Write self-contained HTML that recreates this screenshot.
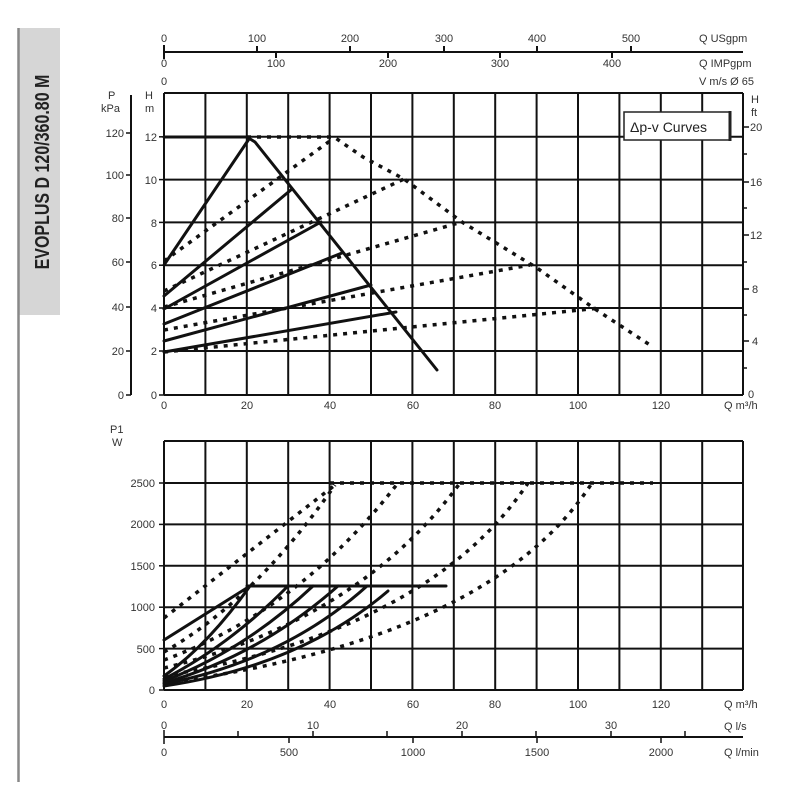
<!DOCTYPE html>
<html><head><meta charset="utf-8"><style>
html,body{margin:0;padding:0;background:#fff;width:800px;height:800px;overflow:hidden}
svg{display:block}
text{font-family:"Liberation Sans",sans-serif;fill:#333;font-size:11px}
</style></head><body>
<svg width="800" height="800" viewBox="0 0 800 800">
<rect x="0" y="0" width="800" height="800" fill="#fff"/>
<rect x="19" y="28" width="41" height="287" fill="#d6d6d6"/>
<line x1="18.5" y1="28" x2="18.5" y2="782" stroke="#888" stroke-width="2.5"/>
<text transform="translate(49,172) rotate(-90) scale(1,1.25)" text-anchor="middle" style="font-size:16px;font-weight:bold;fill:#222;font-family:'Liberation Sans Narrow','Liberation Sans',sans-serif">EVOPLUS D 120/360.80 M</text>

<g stroke="#111" stroke-width="2">
<line x1="164" y1="52" x2="743" y2="52"/>
<line x1="164" y1="45" x2="164" y2="59"/>
<line x1="257" y1="46" x2="257" y2="52"/><line x1="350" y1="46" x2="350" y2="52"/><line x1="444" y1="46" x2="444" y2="52"/><line x1="537" y1="46" x2="537" y2="52"/><line x1="631" y1="46" x2="631" y2="52"/>
<line x1="276" y1="52" x2="276" y2="58"/><line x1="388" y1="52" x2="388" y2="58"/><line x1="500" y1="52" x2="500" y2="58"/><line x1="612" y1="52" x2="612" y2="58"/>
</g>
<g text-anchor="middle">
<text x="164" y="42">0</text><text x="257" y="42">100</text><text x="350" y="42">200</text><text x="444" y="42">300</text><text x="537" y="42">400</text><text x="631" y="42">500</text>
<text x="164" y="67">0</text><text x="276" y="67">100</text><text x="388" y="67">200</text><text x="500" y="67">300</text><text x="612" y="67">400</text>
<text x="164" y="85">0</text>
</g>
<text x="699" y="42">Q USgpm</text>
<text x="699" y="67">Q IMPgpm</text>
<text x="699" y="85">V m/s Ø 65</text>

<g stroke="#111" stroke-width="2" fill="none">
<line x1="164" y1="93" x2="743" y2="93"/>
<line x1="164" y1="136.8" x2="743" y2="136.8"/>
<line x1="164" y1="179.6" x2="743" y2="179.6"/>
<line x1="164" y1="222.4" x2="743" y2="222.4"/>
<line x1="164" y1="265.2" x2="743" y2="265.2"/>
<line x1="164" y1="308" x2="743" y2="308"/>
<line x1="164" y1="351" x2="743" y2="351"/>
<line x1="164" y1="395" x2="743" y2="395"/>
<line x1="164" y1="93" x2="164" y2="395"/><line x1="205.4" y1="93" x2="205.4" y2="395"/><line x1="246.8" y1="93" x2="246.8" y2="395"/><line x1="288.2" y1="93" x2="288.2" y2="395"/><line x1="329.6" y1="93" x2="329.6" y2="395"/><line x1="371" y1="93" x2="371" y2="395"/><line x1="412.4" y1="93" x2="412.4" y2="395"/><line x1="453.8" y1="93" x2="453.8" y2="395"/><line x1="495.2" y1="93" x2="495.2" y2="395"/><line x1="536.6" y1="93" x2="536.6" y2="395"/><line x1="578" y1="93" x2="578" y2="395"/><line x1="619.4" y1="93" x2="619.4" y2="395"/><line x1="660.8" y1="93" x2="660.8" y2="395"/><line x1="702.2" y1="93" x2="702.2" y2="395"/><line x1="743" y1="93" x2="743" y2="395"/>
<line x1="131" y1="95" x2="131" y2="395"/>
<g stroke-width="1.5">
<line x1="126" y1="133" x2="131" y2="133"/><line x1="126" y1="175" x2="131" y2="175"/><line x1="126" y1="218" x2="131" y2="218"/><line x1="126" y1="262" x2="131" y2="262"/><line x1="126" y1="307" x2="131" y2="307"/><line x1="126" y1="351" x2="131" y2="351"/><line x1="126" y1="395" x2="131" y2="395"/>
<line x1="159" y1="136.8" x2="164" y2="136.8"/><line x1="159" y1="179.6" x2="164" y2="179.6"/><line x1="159" y1="222.4" x2="164" y2="222.4"/><line x1="159" y1="265.2" x2="164" y2="265.2"/><line x1="159" y1="308" x2="164" y2="308"/><line x1="159" y1="351" x2="164" y2="351"/><line x1="159" y1="395" x2="164" y2="395"/>
<line x1="743" y1="127" x2="749" y2="127"/><line x1="743" y1="182" x2="749" y2="182"/><line x1="743" y1="235" x2="749" y2="235"/><line x1="743" y1="289" x2="749" y2="289"/><line x1="743" y1="341" x2="749" y2="341"/>
<line x1="743" y1="154" x2="747" y2="154"/><line x1="743" y1="208" x2="747" y2="208"/><line x1="743" y1="262" x2="747" y2="262"/><line x1="743" y1="315" x2="747" y2="315"/><line x1="743" y1="368" x2="747" y2="368"/>
</g>
</g>
<g text-anchor="end">
<text x="124" y="137">120</text><text x="124" y="179">100</text><text x="124" y="222">80</text><text x="124" y="266">60</text><text x="124" y="311">40</text><text x="124" y="355">20</text><text x="124" y="399">0</text>
<text x="157" y="141">12</text><text x="157" y="184">10</text><text x="157" y="227">8</text><text x="157" y="269">6</text><text x="157" y="312">4</text><text x="157" y="355">2</text><text x="157" y="399">0</text>
</g>
<text x="108" y="99">P</text><text x="101" y="112">kPa</text>
<text x="145" y="99">H</text><text x="145" y="112">m</text>
<text x="751" y="103">H</text><text x="751" y="116">ft</text>
<g><text x="750" y="131">20</text><text x="750" y="186">16</text><text x="750" y="239">12</text><text x="752" y="293">8</text><text x="752" y="345">4</text><text x="748" y="398">0</text></g>
<g text-anchor="middle">
<text x="164" y="409">0</text><text x="247" y="409">20</text><text x="330" y="409">40</text><text x="413" y="409">60</text><text x="495" y="409">80</text><text x="578" y="409">100</text><text x="661" y="409">120</text>
</g>
<text x="724" y="409">Q m³/h</text>
<rect x="624" y="112" width="106" height="28" fill="#fff" stroke="#222" stroke-width="1.5"/>
<line x1="730" y1="111" x2="730" y2="141" stroke="#222" stroke-width="3"/>
<text x="630" y="132" style="font-size:14px;fill:#222;font-family:'Liberation Sans Narrow','Liberation Sans',sans-serif">Δp-v Curves</text>

<g stroke="#111" stroke-width="3" fill="none" stroke-linecap="round">
<polyline points="164,137 247,137 255,142 437,370"/>
<line x1="164" y1="265" x2="249" y2="139"/>
<line x1="164" y1="296" x2="292" y2="189"/>
<line x1="164" y1="309" x2="321" y2="222"/>
<line x1="164" y1="324" x2="342" y2="253"/>
<line x1="164" y1="341" x2="371" y2="285"/>
<line x1="164" y1="352" x2="396" y2="312"/>
</g>
<g stroke="#111" stroke-width="3.5" fill="none" stroke-dasharray="4 6">
<polyline points="247,137 334,137 363,157 404,179 462,222 537,268 595,309 653,347"/>
<line x1="164" y1="261" x2="334" y2="138"/>
<line x1="164" y1="291" x2="404" y2="179"/>
<line x1="164" y1="307" x2="462" y2="222"/>
<line x1="164" y1="330" x2="530" y2="265"/>
<line x1="164" y1="352" x2="600" y2="308"/>
</g>

<g stroke="#111" stroke-width="2" fill="none">
<line x1="164" y1="441" x2="743" y2="441"/>
<line x1="164" y1="483" x2="743" y2="483"/>
<line x1="164" y1="524.4" x2="743" y2="524.4"/>
<line x1="164" y1="565.8" x2="743" y2="565.8"/>
<line x1="164" y1="607.2" x2="743" y2="607.2"/>
<line x1="164" y1="648.6" x2="743" y2="648.6"/>
<line x1="164" y1="690" x2="743" y2="690"/>
<line x1="164" y1="441" x2="164" y2="690"/><line x1="205.4" y1="441" x2="205.4" y2="690"/><line x1="246.8" y1="441" x2="246.8" y2="690"/><line x1="288.2" y1="441" x2="288.2" y2="690"/><line x1="329.6" y1="441" x2="329.6" y2="690"/><line x1="371" y1="441" x2="371" y2="690"/><line x1="412.4" y1="441" x2="412.4" y2="690"/><line x1="453.8" y1="441" x2="453.8" y2="690"/><line x1="495.2" y1="441" x2="495.2" y2="690"/><line x1="536.6" y1="441" x2="536.6" y2="690"/><line x1="578" y1="441" x2="578" y2="690"/><line x1="619.4" y1="441" x2="619.4" y2="690"/><line x1="660.8" y1="441" x2="660.8" y2="690"/><line x1="702.2" y1="441" x2="702.2" y2="690"/><line x1="743" y1="441" x2="743" y2="690"/>
<g stroke-width="1.5">
<line x1="159" y1="483" x2="164" y2="483"/><line x1="159" y1="524.4" x2="164" y2="524.4"/><line x1="159" y1="565.8" x2="164" y2="565.8"/><line x1="159" y1="607.2" x2="164" y2="607.2"/><line x1="159" y1="648.6" x2="164" y2="648.6"/><line x1="159" y1="690" x2="164" y2="690"/>
</g>
<line x1="164" y1="737" x2="743" y2="737"/>
<g stroke-width="1.5">
<line x1="164" y1="730" x2="164" y2="744"/>
<line x1="313" y1="731" x2="313" y2="737"/><line x1="462" y1="731" x2="462" y2="737"/><line x1="611" y1="731" x2="611" y2="737"/>
<line x1="238" y1="731" x2="238" y2="737"/><line x1="387" y1="731" x2="387" y2="737"/><line x1="536" y1="731" x2="536" y2="737"/><line x1="685" y1="731" x2="685" y2="737"/>
<line x1="289" y1="737" x2="289" y2="743"/><line x1="413" y1="737" x2="413" y2="743"/><line x1="537" y1="737" x2="537" y2="743"/><line x1="661" y1="737" x2="661" y2="743"/>
</g>
</g>
<text x="110" y="433">P1</text><text x="112" y="446">W</text>
<g text-anchor="end">
<text x="155" y="487">2500</text><text x="155" y="528">2000</text><text x="155" y="570">1500</text><text x="155" y="611">1000</text><text x="155" y="653">500</text><text x="155" y="694">0</text>
</g>
<g text-anchor="middle">
<text x="164" y="708">0</text><text x="247" y="708">20</text><text x="330" y="708">40</text><text x="413" y="708">60</text><text x="495" y="708">80</text><text x="578" y="708">100</text><text x="661" y="708">120</text>
<text x="164" y="729">0</text><text x="313" y="729">10</text><text x="462" y="729">20</text><text x="611" y="729">30</text>
<text x="164" y="756">0</text><text x="289" y="756">500</text><text x="413" y="756">1000</text><text x="537" y="756">1500</text><text x="661" y="756">2000</text>
</g>
<text x="724" y="708">Q m³/h</text>
<text x="724" y="730">Q l/s</text>
<text x="724" y="756">Q l/min</text>

<g stroke="#111" stroke-width="3" fill="none" stroke-linecap="round">
<polyline points="247,586 446,586"/>
<line x1="164" y1="640" x2="250" y2="586"/>
<path d="M164,676 Q208,645 250,586"/>
<path d="M164,679 Q230,645 288,586"/>
<path d="M164,681 Q245,650 313,586"/>
<path d="M164,683 Q260,655 338,586"/>
<path d="M164,684 Q285,660 367,586"/>
<path d="M164,686 Q300,666 388,591"/>
</g>
<g stroke="#111" stroke-width="3.5" fill="none" stroke-dasharray="4 6">
<polyline points="330,483 653,483"/>
<line x1="164" y1="618" x2="335" y2="485"/>
<path d="M164,652 Q255,600 335,485"/>
<path d="M164,660 Q300,610 398,483"/>
<path d="M164,668 Q360,620 460,483"/>
<path d="M164,676 Q430,630 528,483"/>
<path d="M164,683 Q490,640 592,483"/>
</g>
</svg>
</body></html>
